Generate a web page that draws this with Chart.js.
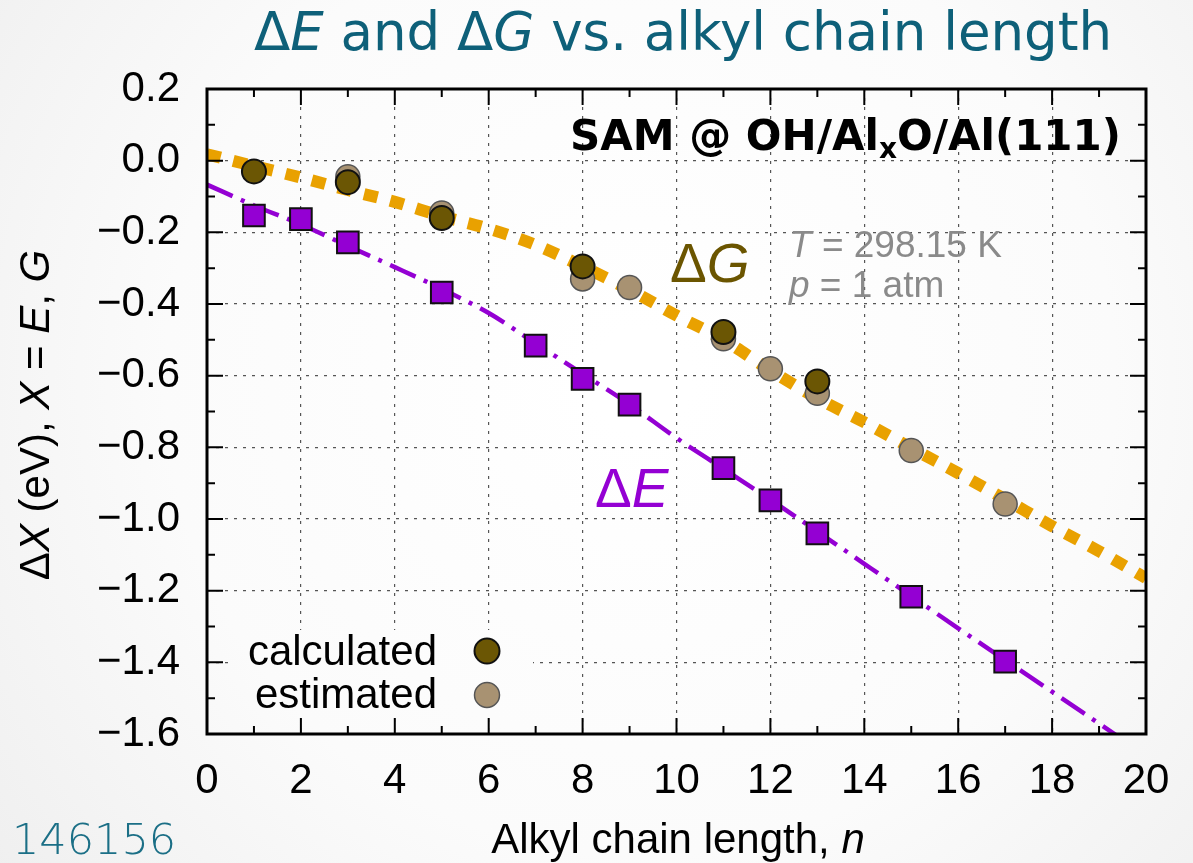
<!DOCTYPE html>
<html><head><meta charset="utf-8">
<script src="https://cdn.jsdelivr.net/npm/chart.js@4.4.1/dist/chart.umd.min.js"></script>
<style>html,body{margin:0;padding:0;overflow:hidden;background:#f6f6f6}#wrap{width:1193px;height:863px;position:relative}</style>
</head><body><div id="wrap"><canvas id="c"></canvas></div>
<script>
// ---- data ----
const nCalc = [1, 3, 5, 8, 11, 13];
const gCalc = [-0.030, -0.060, -0.160, -0.295, -0.478, -0.616];
const nEst = [3, 5, 8, 9, 11, 12, 13, 15, 17];
const gEst = [-0.045, -0.146, -0.330, -0.354, -0.497, -0.581, -0.649, -0.809, -0.958];
const nE = [1, 2, 3, 5, 7, 8, 9, 11, 12, 13, 15, 17];
const dE = [-0.153, -0.163, -0.228, -0.368, -0.516, -0.609, -0.681, -0.858, -0.948, -1.040, -1.217, -1.398];
const fitN = [0, 1, 2, 3, 4, 5, 6, 7, 8, 9, 10, 11, 12, 13, 14, 15, 16, 17, 18, 19, 20];
const gFit = [0.018, -0.015, -0.047, -0.082, -0.115, -0.155, -0.190, -0.235, -0.295, -0.360, -0.432, -0.500, -0.585, -0.663, -0.730, -0.802, -0.872, -0.945, -1.020, -1.090, -1.165];
const eFit = [-0.067, -0.125, -0.178, -0.238, -0.297, -0.358, -0.425, -0.510, -0.595, -0.680, -0.774, -0.860, -0.946, -1.035, -1.125, -1.215, -1.305, -1.394, -1.482, -1.571, -1.660];
const xTickLabels = ['0', '2', '4', '6', '8', '10', '12', '14', '16', '18', '20'];
const yTickLabels = ['\u22121.6', '\u22121.4', '\u22121.2', '\u22121.0', '\u22120.8', '\u22120.6', '\u22120.4', '\u22120.2', '0.0', '0.2'];

const pts = (xs, ys) => xs.map((x, i) => ({ x: x, y: ys[i] }));
const SANS = '"Liberation Sans", Arial, sans-serif';
const DJV = '"DejaVu Sans", sans-serif';

function drawRuns(ctx, runs, x, y, align) {
  let total = 0;
  runs.forEach(r => { ctx.font = r.font; r.w = ctx.measureText(r.t).width; total += r.w; });
  let cx = align === 'center' ? x - total / 2 : align === 'right' ? x - total : x;
  ctx.textAlign = 'left';
  ctx.textBaseline = 'alphabetic';
  runs.forEach(r => {
    ctx.font = r.font;
    if (r.color) ctx.fillStyle = r.color;
    ctx.fillText(r.t, cx, y + (r.dy || 0));
    cx += r.w;
  });
}

let bgGrad = null;
const deco = {
  id: 'deco',
  beforeDraw(chart) {
    const ctx = chart.ctx;
    const g = ctx.createRadialGradient(640, 380, 50, 640, 380, 900);
    g.addColorStop(0, '#ffffff');
    g.addColorStop(0.5, '#fbfbfb');
    g.addColorStop(1, '#ececec');
    bgGrad = g;
    ctx.save();
    ctx.fillStyle = g;
    ctx.fillRect(0, 0, chart.width, chart.height);
    ctx.restore();
  },
  beforeDatasetsDraw(chart) {
    const ctx = chart.ctx;
    ctx.save();
    // legend box (opaque, hides grid)
    ctx.fillStyle = bgGrad;
    ctx.fillRect(232, 630, 301, 87);
    ctx.fillStyle = '#000';
    drawRuns(ctx, [{ t: 'calculated', font: '42px ' + SANS }], 437, 665, 'right');
    drawRuns(ctx, [{ t: 'estimated', font: '42px ' + SANS }], 437, 708, 'right');
    ctx.beginPath(); ctx.arc(487, 651, 12.5, 0, Math.PI * 2);
    ctx.fillStyle = '#6b5604'; ctx.fill(); ctx.lineWidth = 2; ctx.strokeStyle = '#111'; ctx.stroke();
    ctx.beginPath(); ctx.arc(487, 695, 12.5, 0, Math.PI * 2);
    ctx.fillStyle = '#a89272'; ctx.fill(); ctx.lineWidth = 1.5; ctx.strokeStyle = '#555'; ctx.stroke();
    ctx.restore();
  },
  afterDatasetsDraw(chart) {
    const ctx = chart.ctx;
    const a = chart.chartArea;
    const xs = chart.scales.x, ys = chart.scales.y;
    ctx.save();
    ctx.strokeStyle = '#000';
    ctx.lineWidth = 2;
    ctx.beginPath();
    for (let v = 0; v <= 20; v += 1) {
      const px = xs.getPixelForValue(v);
      const len = v % 2 === 0 ? 16 : 8;
      ctx.moveTo(px, a.bottom); ctx.lineTo(px, a.bottom - len);
      ctx.moveTo(px, a.top); ctx.lineTo(px, a.top + len);
    }
    for (let k = 0; k <= 18; k++) {
      const v = -1.6 + k * 0.1;
      const py = ys.getPixelForValue(v);
      const len = k % 2 === 0 ? 16 : 8;
      ctx.moveTo(a.left, py); ctx.lineTo(a.left + len, py);
      ctx.moveTo(a.right, py); ctx.lineTo(a.right - len, py);
    }
    ctx.stroke();
    ctx.lineWidth = 3;
    ctx.strokeRect(a.left, a.top, a.right - a.left, a.bottom - a.top);
    ctx.restore();
  },
  afterDraw(chart) {
    const ctx = chart.ctx;
    ctx.save();
    // title
    const teal = '#0e6079';
    drawRuns(ctx, [
      { t: '\u0394', font: '53px ' + DJV, color: teal },
      { t: 'E', font: 'italic 53px ' + DJV },
      { t: ' and \u0394', font: '53px ' + DJV },
      { t: 'G', font: 'italic 53px ' + DJV },
      { t: ' vs. alkyl chain length', font: '53px ' + DJV }
    ], 683, 50, 'center');
    // panel label
    ctx.fillStyle = '#000';
    drawRuns(ctx, [
      { t: 'SAM @ OH/Al', font: 'bold 42px ' + DJV },
      { t: 'x', font: 'bold 28px ' + DJV, dy: 8 },
      { t: 'O/Al(111)', font: 'bold 42px ' + DJV }
    ], 1121, 150, 'right');
    // curve labels
    drawRuns(ctx, [
      { t: '\u0394', font: '55px ' + SANS, color: '#6b5500' },
      { t: 'G', font: 'italic 55px ' + SANS }
    ], 670, 282, 'left');
    drawRuns(ctx, [
      { t: '\u0394', font: '55px ' + SANS, color: '#9400d3' },
      { t: 'E', font: 'italic 55px ' + SANS }
    ], 595, 507, 'left');
    drawRuns(ctx, [
      { t: 'T', font: 'italic 37px ' + SANS, color: '#8a8a8a' },
      { t: ' = 298.15 K', font: '37px ' + SANS }
    ], 789, 257, 'left');
    drawRuns(ctx, [
      { t: 'p', font: 'italic 37px ' + SANS, color: '#8a8a8a' },
      { t: ' = 1 atm', font: '37px ' + SANS }
    ], 789, 297, 'left');
    // axis titles
    ctx.fillStyle = '#000';
    drawRuns(ctx, [
      { t: 'Alkyl chain length, ', font: '42px ' + SANS },
      { t: 'n', font: 'italic 42px ' + SANS }
    ], 678, 853, 'center');
    ctx.save();
    ctx.translate(49, 415);
    ctx.rotate(-Math.PI / 2);
    drawRuns(ctx, [
      { t: '\u0394', font: '42px ' + SANS },
      { t: 'X', font: 'italic 42px ' + SANS },
      { t: ' (eV), ', font: '42px ' + SANS },
      { t: 'X', font: 'italic 42px ' + SANS },
      { t: ' = ', font: '42px ' + SANS },
      { t: 'E', font: 'italic 42px ' + SANS },
      { t: ', ', font: '42px ' + SANS },
      { t: 'G', font: 'italic 42px ' + SANS }
    ], 0, 0, 'center');
    ctx.restore();
    // slide number
    drawRuns(ctx, [{ t: '146156', font: '200 43px ' + DJV, color: '#1b6f86' }], 12, 854, 'left');
    ctx.restore();
  }
};

new Chart(document.getElementById('c'), {
  type: 'scatter',
  data: {
    datasets: [
      { label: 'calculated', data: pts(nCalc, gCalc), order: 0, pointRadius: 12, pointHoverRadius: 12,
        backgroundColor: '#6b5604', borderColor: '#111', borderWidth: 2, pointStyle: 'circle' },
      { label: 'estimated', data: pts(nEst, gEst), order: 1, pointRadius: 12, pointHoverRadius: 12,
        backgroundColor: '#a89272', borderColor: '#555', borderWidth: 1.5, pointStyle: 'circle' },
      { label: 'dE', data: pts(nE, dE), order: 2, pointRadius: 15.3, pointHoverRadius: 15.3,
        backgroundColor: '#9400d3', borderColor: '#111', borderWidth: 2, pointStyle: 'rect' },
      { label: 'dE fit', data: pts(fitN, eFit), order: 3, showLine: true, pointRadius: 0, pointHoverRadius: 0,
        borderColor: '#9400d3', borderWidth: 4.5, borderDash: [28, 9, 4, 9], borderCapStyle: 'butt',
        cubicInterpolationMode: 'monotone', clip: 0, fill: false },
      { label: 'dG fit', data: pts(fitN, gFit), order: 4, showLine: true, pointRadius: 0, pointHoverRadius: 0,
        borderColor: '#e9a100', borderWidth: 12, borderDash: [14, 13], borderCapStyle: 'butt',
        cubicInterpolationMode: 'monotone', clip: 0, fill: false }
    ]
  },
  options: {
    responsive: true,
    maintainAspectRatio: false,
    animation: false,
    events: [],
    layout: { padding: { top: 89, right: 47, left: 0, bottom: 0 } },
    plugins: { legend: { display: false }, tooltip: { enabled: false }, title: { display: false } },
    scales: {
      x: {
        type: 'linear', min: 0, max: 20,
        afterFit(s) { s.height = 129; s.paddingLeft = 0; s.paddingRight = 0; },
        ticks: { stepSize: 2, color: '#000', padding: 22, maxRotation: 0, autoSkip: false,
          font: { family: 'Liberation Sans', size: 42 },
          callback: v => xTickLabels[Math.round(v / 2)] },
        grid: { color: '#555', lineWidth: 1.2, drawTicks: false, tickLength: 0 },
        border: { display: false, dash: [3, 6] }
      },
      y: {
        type: 'linear', min: -1.6, max: 0.2,
        afterFit(s) { s.width = 207; s.paddingTop = 0; s.paddingBottom = 0; },
        ticks: { stepSize: 0.2, color: '#000', padding: 27, autoSkip: false,
          font: { family: 'Liberation Sans', size: 42 },
          callback: v => yTickLabels[Math.round((v + 1.6) / 0.2)] },
        grid: { color: '#555', lineWidth: 1.2, drawTicks: false, tickLength: 0 },
        border: { display: false, dash: [3, 6] }
      }
    }
  },
  plugins: [deco]
});
</script>
</body></html>
